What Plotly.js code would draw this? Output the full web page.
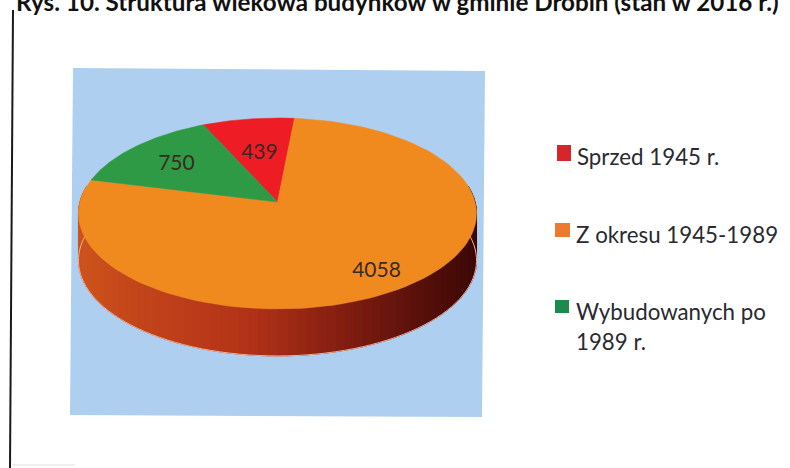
<!DOCTYPE html>
<html><head><meta charset="utf-8">
<script src="https://cdn.plot.ly/plotly-3.0.1.min.js"></script>
<style>html,body{margin:0;padding:0;background:#fff}#c{width:790px;height:468px}</style>
</head><body><div id="c"></div>
<script>
const categories = ['Sprzed 1945 r.', 'Z okresu 1945-1989', 'Wybudowanych po 1989 r.'];
const values = [439, 4058, 750];
const sliceColors = ['#ee1c24', '#f08a1f', '#2e9a45'];
const swatchColors = ['#d6262c', '#ea7b30', '#1c8a4a'];
const labelRadius = [0.59, 0.80, 0.70];
const legendLines = [['Sprzed 1945 r.'], ['Z okresu 1945-1989'], ['Wybudowanych po', '1989 r.']];
const titleText = 'Rys. 10. Struktura wiekowa budynków w gminie Drobin (stan w 2016 r.)';

// pie projection (screen pixels)
const apex = [277.5, 202], persp = 0.12, B = 197.6, A = 94.1, depth = 47, startDeg = -24.6, labelDrop = 3;
function proj(deg, r, dy) {
  const t = deg * Math.PI / 180, u = r * Math.sin(t), v = r * Math.cos(t), w = 1 + persp * v;
  return [apex[0] + B * u / w, apex[1] - A * v / w + (dy || 0)];
}
const total = values.reduce((a, b) => a + b, 0);
const traces = [];

// side wall colours keyed by screen x
const wallStops = [[78,[205,84,28]],[130,[196,70,26]],[250,[178,50,24]],[340,[132,30,16]],[420,[88,16,10]],[478,[58,8,6]]];
function wallColor(x) {
  for (let i = 1; i < wallStops.length; i++) {
    if (x <= wallStops[i][0]) {
      const a = wallStops[i-1], b = wallStops[i], f = Math.max(0, (x - a[0]) / (b[0] - a[0]));
      return 'rgb(' + a[1].map((c, j) => Math.round(c + f * (b[1][j] - c))).join(',') + ')';
    }
  }
  return 'rgb(58,8,6)';
}
const edgeX = [], edgeY = [];
for (let d = 80; d < 280; d += 2.5) {
  const p = [proj(d, 1), proj(d + 2.5, 1), proj(d + 2.5, 1, depth), proj(d, 1, depth)];
  const c = wallColor((p[0][0] + p[1][0]) / 2);
  edgeX.push(p[3][0]); edgeY.push(p[3][1]);
  traces.push({type:'scatter', mode:'lines', x:[...p.map(q=>q[0]), p[0][0]], y:[...p.map(q=>q[1]), p[0][1]],
    fill:'toself', fillcolor:c, line:{color:c, width:1}, hoverinfo:'skip', showlegend:false});
}
traces.push({type:'scatter', mode:'lines', x:edgeX, y:edgeY, line:{color:'#eeb09a', width:1, shape:'spline'}, hoverinfo:'skip', showlegend:false});

// top face slices, clockwise from the start angle
let ang = startDeg; const lx = [], ly = [];
values.forEach((val, i) => {
  const sweep = val / total * 360, xs = [apex[0]], ys = [apex[1]];
  for (let k = 0; k <= 120; k++) { const q = proj(ang + sweep * k / 120, 1); xs.push(q[0]); ys.push(q[1]); }
  xs.push(apex[0]); ys.push(apex[1]);
  traces.push({type:'scatter', mode:'lines', x:xs, y:ys, fill:'toself', fillcolor:sliceColors[i],
    line:{color:sliceColors[i], width:0.5}, name:categories[i], text:String(val), hoverinfo:'name+text', showlegend:false});
  const m = proj(ang + sweep / 2, labelRadius[i]); lx.push(m[0]); ly.push(m[1] + labelDrop);
  ang += sweep;
});
traces.push({type:'scatter', mode:'text', x:lx, y:ly, text:values.map(String), textposition:'middle center',
  textfont:{family:'Lato, sans-serif', size:21, color:'#3a2a22'}, hoverinfo:'skip', showlegend:false});

// legend rows
const swatchBox = [[557,145,571,161],[555,223,570,237],[555,300,569,313]];
const textX = [575,574,574], textY = [[156],[234],[311,341]];
const shapes = [
  {type:'path', path:'M73,68 L485,71 L482,417 L70,415 Z', fillcolor:'#aecfef', line:{width:0}, layer:'below'},
  {type:'line', x0:13, y0:10, x1:10, y1:468, line:{color:'#1a1a1a', width:2}},
  {type:'line', x0:12, y0:465, x1:75, y1:465, line:{color:'#dddddd', width:1}}
];
const annotations = [{x:14, y:1, xref:'x', yref:'y', text:'<b>'+titleText+'</b>', showarrow:false, xanchor:'left', yanchor:'middle',
  font:{family:'Lato, sans-serif', size:24.2, color:'#111111'}}];
categories.forEach((c, i) => {
  const b = swatchBox[i];
  shapes.push({type:'rect', x0:b[0], y0:b[1], x1:b[2], y1:b[3], fillcolor:swatchColors[i], line:{width:0}});
  legendLines[i].forEach((t, j) => annotations.push({x:textX[i], y:textY[i][j], xref:'x', yref:'y', text:t, showarrow:false,
    xanchor:'left', yanchor:'middle', font:{family:'Lato, sans-serif', size:22.3, color:'#2a2a30'}}));
});

Plotly.newPlot('c', traces, {
  width:790, height:468, margin:{l:0,r:0,t:0,b:0}, paper_bgcolor:'#ffffff', plot_bgcolor:'#ffffff', showlegend:false,
  xaxis:{range:[0,790], visible:false, fixedrange:true},
  yaxis:{range:[468,0], visible:false, fixedrange:true},
  shapes, annotations
}, {displayModeBar:false, staticPlot:true});
</script></body></html>
